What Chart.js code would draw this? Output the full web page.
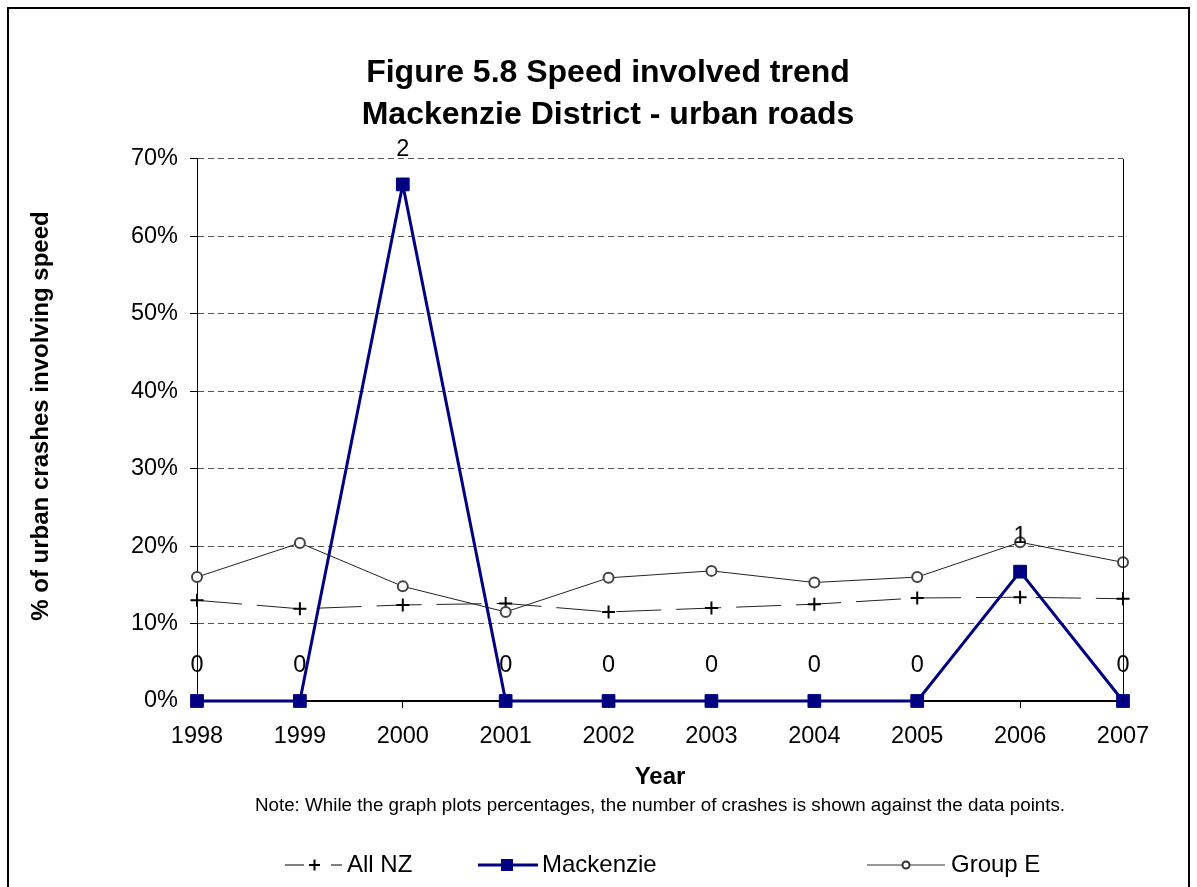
<!DOCTYPE html>
<html>
<head>
<meta charset="utf-8">
<script src="https://cdn.jsdelivr.net/npm/chart.js@4"></script>
<style>
    html, body { margin: 0; padding: 0; background: #fff; overflow: hidden; }
    #wrap { position: relative; width: 1197px; height: 887px; }
</style>
</head>
<body>
<div id="wrap"><canvas id="wykres" width="1197" height="887"></canvas></div>
<script>
// Dane wykresu
const lata = ['1998', '1999', '2000', '2001', '2002', '2003', '2004', '2005', '2006', '2007'];
const allNZ = [0.130, 0.119, 0.124, 0.126, 0.115, 0.120, 0.125, 0.133, 0.134, 0.132];
const mackenzie = [0, 0, 0.667, 0, 0, 0, 0, 0, 0.167, 0];
const groupE = [0.160, 0.204, 0.148, 0.115, 0.159, 0.168, 0.153, 0.160, 0.205, 0.179];
const liczbaWypadkow = ['0', '0', '2', '0', '0', '0', '0', '0', '1', '0'];
const yTicks = [0, 0.1, 0.2, 0.3, 0.4, 0.5, 0.6, 0.7];

const FONT = 'Arial, "Liberation Sans", sans-serif';

/**
 * Ramka, etykiety osi, notka, liczby nad punktami i legenda
 */
const dodatki = {
    id: 'dodatki',
    afterDraw(chart) {
        const ctx = chart.ctx;
        const area = chart.chartArea;
        const srodekX = (area.left + area.right) / 2;
        ctx.save();

        // prawa krawędź obszaru wykresu
        ctx.strokeStyle = '#000';
        ctx.lineWidth = 1;
        ctx.beginPath();
        ctx.moveTo(Math.round(area.right) + 0.5, area.top);
        ctx.lineTo(Math.round(area.right) + 0.5, area.bottom);
        ctx.stroke();

        // ramka wokół całości
        ctx.lineWidth = 2;
        ctx.strokeRect(8, 8, 1181, 900);

        ctx.fillStyle = '#000';
        ctx.textAlign = 'center';
        ctx.textBaseline = 'middle';

        // tytuł osi Y
        ctx.save();
        ctx.translate(41, 416);
        ctx.rotate(-Math.PI / 2);
        ctx.font = 'bold 24px ' + FONT;
        ctx.fillText('% of urban crashes involving speed', 0, 0);
        ctx.restore();

        // tytuł osi X i notka
        ctx.font = 'bold 24px ' + FONT;
        ctx.fillText('Year', srodekX, 777);
        ctx.font = '18.8px ' + FONT;
        ctx.fillText('Note: While the graph plots percentages, the number of crashes is shown against the data points.', srodekX, 806);

        // liczba wypadków nad punktami Mackenzie
        const meta = chart.getDatasetMeta(1);
        ctx.font = '23.5px ' + FONT;
        meta.data.forEach((pt, i) => {
            ctx.fillText(liczbaWypadkow[i], pt.x, pt.y - 35);
        });

        // legenda
        const ly = 865;
        ctx.textAlign = 'left';
        ctx.font = '24px ' + FONT;

        // All NZ
        ctx.strokeStyle = '#000';
        ctx.lineWidth = 1;
        ctx.beginPath();
        ctx.moveTo(285, ly); ctx.lineTo(304, ly);
        ctx.moveTo(331, ly); ctx.lineTo(342, ly);
        ctx.stroke();
        ctx.lineWidth = 2;
        ctx.beginPath();
        ctx.moveTo(309, ly); ctx.lineTo(320, ly);
        ctx.moveTo(314.5, ly - 5.5); ctx.lineTo(314.5, ly + 5.5);
        ctx.stroke();
        ctx.fillText('All NZ', 347, ly);

        // Mackenzie
        ctx.strokeStyle = '#000080';
        ctx.lineWidth = 3;
        ctx.beginPath();
        ctx.moveTo(478, ly); ctx.lineTo(538, ly);
        ctx.stroke();
        ctx.fillStyle = '#000080';
        ctx.fillRect(501, ly - 6, 12, 12);
        ctx.fillStyle = '#000';
        ctx.fillText('Mackenzie', 542, ly);

        // Group E
        ctx.strokeStyle = '#333';
        ctx.lineWidth = 1;
        ctx.beginPath();
        ctx.moveTo(867, ly); ctx.lineTo(945, ly);
        ctx.stroke();
        ctx.fillStyle = '#fff';
        ctx.lineWidth = 2;
        ctx.beginPath();
        ctx.arc(906, ly, 3.5, 0, Math.PI * 2);
        ctx.fill();
        ctx.stroke();
        ctx.fillStyle = '#000';
        ctx.fillText('Group E', 951, ly);

        ctx.restore();
    }
};

const ctx = document.getElementById('wykres').getContext('2d');
const wykres = new Chart(ctx, {
    type: 'line',
    data: {
        labels: lata,
        datasets: [
            {
                label: 'All NZ',
                data: allNZ,
                borderColor: '#222',
                borderWidth: 1,
                borderDash: [45, 15],
                pointStyle: 'cross',
                pointRadius: 6.5,
                pointBorderWidth: 2,
                pointBorderColor: '#000',
                pointBackgroundColor: '#000',
                tension: 0,
                clip: false,
                order: 3
            },
            {
                label: 'Mackenzie',
                data: mackenzie,
                borderColor: '#000080',
                borderWidth: 3,
                pointStyle: 'rect',
                pointRadius: 9,
                pointBorderWidth: 1,
                pointBorderColor: '#000080',
                pointBackgroundColor: '#000080',
                tension: 0,
                clip: false,
                order: 1
            },
            {
                label: 'Group E',
                data: groupE,
                borderColor: '#222',
                borderWidth: 1,
                pointStyle: 'circle',
                pointRadius: 5,
                pointBorderWidth: 2,
                pointBorderColor: '#444',
                pointBackgroundColor: '#fff',
                tension: 0,
                clip: false,
                order: 2
            }
        ]
    },
    options: {
        responsive: false,
        animation: false,
        layout: { padding: { left: 93, right: 74, top: 10, bottom: 0 } },
        plugins: {
            legend: { display: false },
            tooltip: { enabled: false },
            title: {
                display: true,
                text: ['Figure 5.8 Speed involved trend', 'Mackenzie District - urban roads'],
                color: '#000',
                font: { family: FONT, size: 32, weight: 'bold', lineHeight: 1.31 },
                padding: { top: 42, bottom: 23 }
            }
        },
        scales: {
            x: {
                offset: false,
                grid: {
                    display: true,
                    drawOnChartArea: false,
                    drawTicks: true,
                    tickLength: 7,
                    tickColor: '#000'
                },
                border: { display: true, color: '#000', width: 2 },
                ticks: {
                    color: '#000',
                    font: { family: FONT, size: 23.5 },
                    padding: 14,
                    maxRotation: 0,
                    autoSkip: false
                },
                afterFit(scale) { scale.height = 186; }
            },
            y: {
                min: 0,
                max: 0.7,
                afterBuildTicks(scale) {
                    scale.ticks = yTicks.map(v => ({ value: v }));
                },
                grid: {
                    color: (c) => c.tick && c.tick.value === 0 ? 'rgba(0,0,0,0)' : '#555',
                    tickBorderDash: [],
                    tickColor: '#000',
                    tickLength: 7,
                    lineWidth: 1
                },
                border: { display: true, color: '#000', width: 1, dash: [6, 4] },
                ticks: {
                    color: '#000',
                    font: { family: FONT, size: 23.5 },
                    padding: 12,
                    callback: (v) => Math.round(v * 100) + '%'
                },
                afterFit(scale) { scale.width = 104; }
            }
        }
    },
    plugins: [dodatki]
});
</script>
</body>
</html>
